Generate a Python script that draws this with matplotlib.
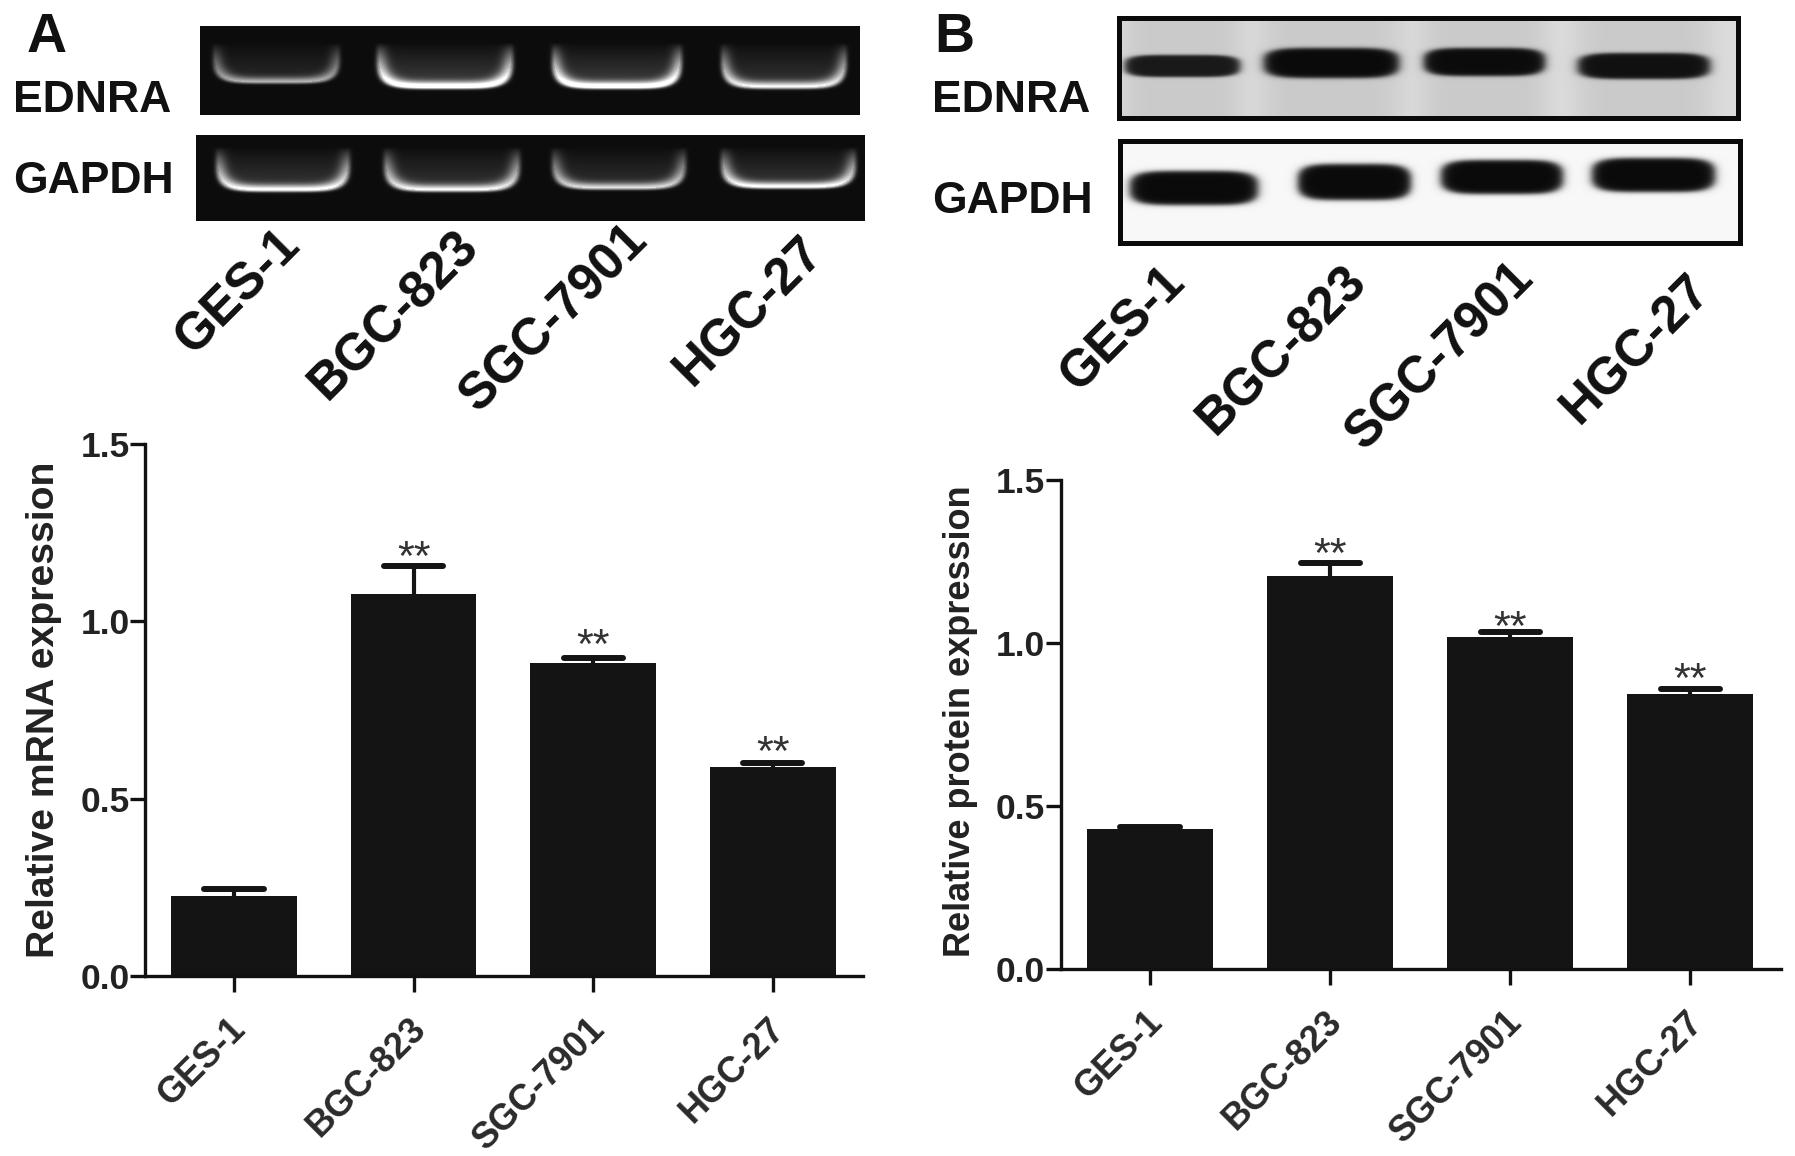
import numpy as np
import matplotlib
matplotlib.use("Agg")
import matplotlib.pyplot as plt
from matplotlib.transforms import ScaledTranslation

plt.rcParams["font.family"] = ["Liberation Sans", "DejaVu Sans"]

W, H = 1795, 1156

# ---- bar chart values ----
cell_lines = ["GES-1", "BGC-823", "SGC-7901", "HGC-27"]
y_ticks = [0.0, 0.5, 1.0, 1.5]

mrna_mean = [0.226, 1.077, 0.882, 0.589]
mrna_err_top = [0.246, 1.155, 0.897, 0.600]
mrna_star = [None, 1.204, 0.954, 0.653]

protein_mean = [0.428, 1.206, 1.017, 0.844]
protein_err_top = [0.435, 1.245, 1.035, 0.860]
protein_star = [None, 1.296, 1.072, 0.913]

# ---- band strengths read from the gels / blots ----
gel_ednra = [0.55, 1.0, 1.0, 0.8]
gel_gapdh = [0.85, 0.8, 0.7, 0.85]
blot_ednra = [0.8, 1.0, 0.98, 0.92]
blot_gapdh = [1.0, 1.0, 1.0, 1.0]

# lane layout (pixels): left, right, lower edge / centre, half height
GEL_TOP_LANES = [(215, 338, 82), (379, 511, 87), (554, 680, 87), (723, 845, 87)]
GEL_BOT_LANES = [(218, 348, 190), (386, 518, 190), (554, 684, 188), (723, 854, 187)]
BLOT_TOP_LANES = [(1125, 1240, 66, 11), (1264, 1399, 63, 15), (1424, 1545, 62, 14), (1578, 1710, 66, 13)]
BLOT_BOT_LANES = [(1130, 1258, 188, 17), (1298, 1411, 182, 18), (1441, 1563, 177, 17), (1592, 1715, 175, 17)]

DARK = "#222222"
BAR = "#141414"

fig = plt.figure(figsize=(W / 100, H / 100), dpi=100, facecolor="white")


def px_axes(x0, y0, x1, y1):
    return fig.add_axes([x0 / W, 1 - y1 / H, (x1 - x0) / W, (y1 - y0) / H])


def px_text(x, y, s, **kw):
    fig.text(x / W, 1 - y / H, s, **kw)


def draw_gel(box, lanes, levels, arm_top):
    x0, y0, x1, y1 = box
    Y, X = np.mgrid[y0:y1, x0:x1] + 0.5
    img = np.full(X.shape, 0.05)
    for (a, b, yb), lev in zip(lanes, levels):
        cx, rx = (a + b) / 2, (b - a) / 2
        ry = yb - arm_top
        rho = (np.abs((X - cx) / rx) ** 5 + np.abs((Y - arm_top) / ry) ** 5) ** 0.2
        fade = np.clip((Y - arm_top) / ry, 0, 1) ** 0.9
        s = np.where(rho < 1, 0.13, 0.05)
        line = np.exp(-((rho - 1) / s) ** 2) * fade
        haze = 0.2 * (rho < 1) * fade
        img += lev * (line + haze)
    ax = px_axes(x0, y0, x1, y1)
    ax.imshow(img, cmap="gray", vmin=0, vmax=1, aspect="auto", interpolation="bilinear")
    ax.axis("off")


def draw_blot(box, lanes, levels, bg, haze):
    x0, y0, x1, y1 = box
    Y, X = np.mgrid[y0:y1, x0:x1] + 0.5
    img = np.full(X.shape, bg)
    for (a, b, yc, hh), lev in zip(lanes, levels):
        cx, rx = (a + b) / 2, (b - a) / 2
        img -= haze * np.exp(-(((X - cx) / (rx * 1.05)) ** 6))
    for (a, b, yc, hh), lev in zip(lanes, levels):
        cx, rx = (a + b) / 2, (b - a) / 2
        rho = (np.abs((X - cx) / rx) ** 5 + np.abs((Y - yc) / hh) ** 3) ** (1 / 3)
        core = 1 / (1 + np.exp((rho - 1) / 0.07))
        img = img * (1 - core) + (0.04 + 0.3 * (1 - lev)) * core
    ax = px_axes(x0, y0, x1, y1)
    ax.imshow(img, cmap="gray", vmin=0, vmax=1, aspect="auto", interpolation="bilinear")
    ax.set_xticks([])
    ax.set_yticks([])
    for sp in ax.spines.values():
        sp.set_linewidth(3.6)
        sp.set_color("#0a0a0a")


def draw_bars(box, xlim, means, tops, stars, ylabel, label_x, label_y, label_size):
    ax = px_axes(*box)
    xs = np.arange(len(means))
    ax.bar(xs, means, width=0.7, color=BAR, zorder=2)
    ax.vlines(xs, means, tops, color=BAR, lw=3, zorder=1)
    ax.hlines(tops, xs - 0.165, xs + 0.165, color=BAR, lw=4.3, capstyle="round", zorder=1)
    for x, st in zip(xs, stars):
        if st is not None:
            ax.annotate("**", (x, st), xytext=(0, -15), textcoords="offset points",
                        ha="center", va="baseline", fontsize=31, color="#333333")
    ax.set_xlim(*xlim)
    ax.set_ylim(0, 1.5)
    ax.patch.set_alpha(0)
    for side in ("top", "right"):
        ax.spines[side].set_visible(False)
    for side in ("left", "bottom"):
        ax.spines[side].set_linewidth(2.4)
        ax.spines[side].set_color("#111111")
    ax.set_yticks(y_ticks)
    ax.set_yticklabels([f"{v:.1f}" for v in y_ticks], fontsize=25.5, fontweight="bold", color=DARK)
    ax.set_xticks(xs)
    ax.set_xticklabels(cell_lines, rotation=45, ha="right", rotation_mode="anchor",
                       fontsize=26, fontweight="bold", color="#2a2a2a")
    ax.tick_params(axis="y", length=11, width=2.4, pad=0, color="#111111")
    ax.tick_params(axis="x", length=11.5, width=2.4, pad=14, color="#111111")
    nudge = ScaledTranslation(-4 / 72, 0, fig.dpi_scale_trans)
    for lab in ax.get_xticklabels():
        lab.set_transform(lab.get_transform() + nudge)
    px_text(label_x, label_y, ylabel, rotation=90, ha="center", va="center",
            fontsize=label_size, fontweight="bold", color=DARK)
    return ax


# panel A, top
draw_gel((200, 26, 860, 115), GEL_TOP_LANES, gel_ednra, 43)
draw_gel((196, 135, 865, 221), GEL_BOT_LANES, gel_gapdh, 147)

# panel B, top
draw_blot((1119, 18, 1738, 118), BLOT_TOP_LANES, blot_ednra, 0.86, 0.07)
draw_blot((1120, 141, 1740, 243), BLOT_BOT_LANES, blot_gapdh, 0.97, 0.0)

px_text(27, 52, "A", fontsize=40, fontweight="bold", color="#111111")
px_text(934, 52, "B", fontsize=40, fontweight="bold", color="#111111")
for x, y, s in [(13, 112, "EDNRA"), (13, 193, "GAPDH"), (932, 112, "EDNRA"), (932, 213, "GAPDH")]:
    px_text(x, y, s, fontsize=32, fontweight="bold", color="#111111")

big_a = [(238, 292), (394, 316), (554, 318), (749, 312)]
big_b = [(1123, 329), (1282, 351), (1440, 356), (1636, 350)]
for centres in (big_a, big_b):
    for (x, y), s in zip(centres, cell_lines):
        px_text(x, y, s, rotation=45, ha="center", va="center", rotation_mode="anchor",
                fontsize=37, fontweight="bold", color="#111111")

draw_bars((145, 444, 863, 976), (-0.495, 3.502), mrna_mean, mrna_err_top, mrna_star,
          "Relative mRNA expression", 44, 710, 28.2)
draw_bars((1060.6, 480, 1780.5, 969), (-0.497, 3.5), protein_mean, protein_err_top, protein_star,
          "Relative protein expression", 960, 721, 26)

fig.savefig("out.png", dpi=100, facecolor="white")
